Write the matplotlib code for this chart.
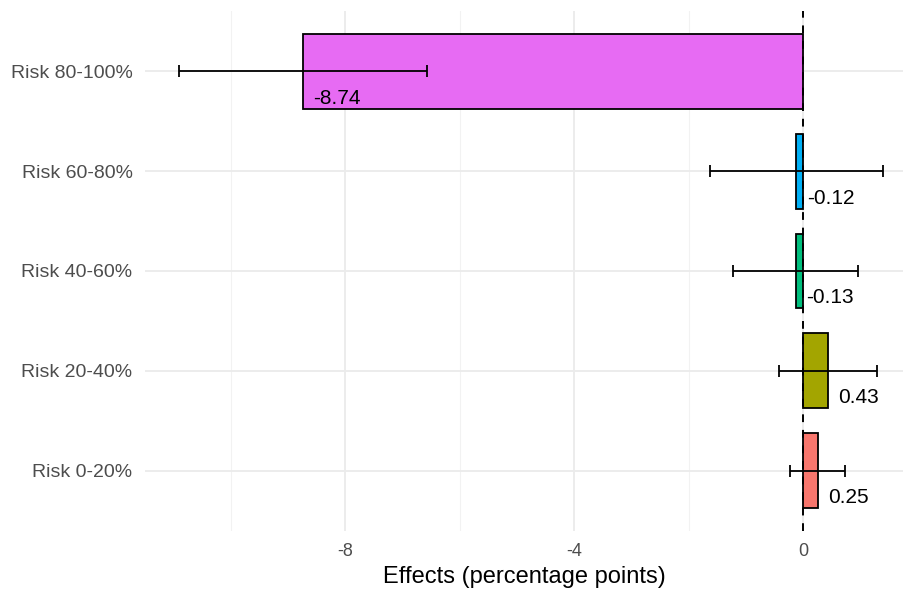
import matplotlib
matplotlib.use("Agg")
import matplotlib.pyplot as plt
from matplotlib.ticker import FixedLocator

plt.rcParams['font.family'] = ['Liberation Sans', 'DejaVu Sans']

categories = ["Risk 0-20%", "Risk 20-40%", "Risk 40-60%", "Risk 60-80%", "Risk 80-100%"]
effects = [0.25, 0.43, -0.13, -0.12, -8.74]
errors = [0.48, 0.85, 1.09, 1.51, 2.17]
labels = ["0.25", "0.43", "-0.13", "-0.12", "-8.74"]
colors = ["#F8766D", "#A3A500", "#00BF7D", "#00B0F6", "#E76BF3"]
major_ticks = [-8, -4, 0]
minor_ticks = [-10, -6, -2]

fig = plt.figure(figsize=(9.04, 5.89), dpi=100)
ax = fig.add_axes([0.1604, 0.0985, 0.8396, 0.8828])

ypos = list(range(1, len(categories) + 1))

ax.barh(ypos, effects, height=0.75, color=colors, edgecolor="black",
        linewidth=1.3, zorder=3)
ax.errorbar(effects, ypos, xerr=errors, fmt="none", ecolor="black",
            elinewidth=1.3, capsize=4, capthick=1.3, zorder=4)
ax.axvline(0, color="black", linestyle=(0, (4, 4)), linewidth=1.4, zorder=5)

for y, v, t in zip(ypos, effects, labels):
    ax.annotate(t, xy=(v, y - 0.27), xytext=(7.5, 0), textcoords="offset points",
                ha="left", va="center", fontsize=15, color="black", zorder=6)

ax.set_xlim(-11.5, 1.76)
ax.set_ylim(0.4, 5.6)
ax.set_yticks(ypos)
ax.set_yticklabels(categories)
ax.xaxis.set_major_locator(FixedLocator(major_ticks))
ax.xaxis.set_minor_locator(FixedLocator(minor_ticks))
ax.set_xticklabels([str(t) for t in major_ticks])

ax.grid(True, which="major", color="#EBEBEB", linewidth=1.3, zorder=0)
ax.grid(True, which="minor", axis="x", color="#F2F2F2", linewidth=0.8, zorder=0)
ax.set_axisbelow(True)
for s in ax.spines.values():
    s.set_visible(False)
ax.tick_params(axis="both", which="both", length=0, labelcolor="#4D4D4D")
ax.tick_params(axis="y", labelsize=14, pad=9)
ax.tick_params(axis="x", labelsize=13, pad=9)
ax.set_xlabel("Effects (percentage points)", fontsize=17, color="black", labelpad=4)

fig.savefig("out.png", dpi=100)
